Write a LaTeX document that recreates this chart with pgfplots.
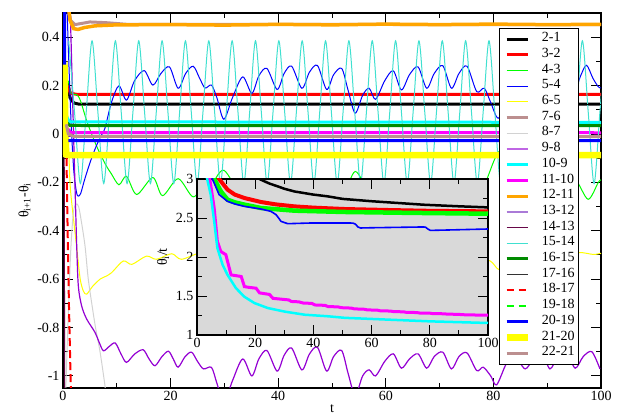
\documentclass[border=0pt]{standalone}
\usepackage{pgfplots}
\pgfplotsset{compat=1.18}
\usepackage{fontspec}
\setmainfont{Liberation Serif}
\definecolor{xgreen}{RGB}{0,255,0}
\definecolor{xblue}{RGB}{0,0,255}
\definecolor{xyellow}{RGB}{255,255,0}
\definecolor{xbrown}{RGB}{188,143,143}
\definecolor{xgrey}{RGB}{210,210,210}
\definecolor{xviolet}{RGB}{148,0,211}
\definecolor{xcyan}{RGB}{0,255,255}
\definecolor{xmagenta}{RGB}{255,0,255}
\definecolor{xorange}{RGB}{255,165,0}
\definecolor{xindigo}{RGB}{114,33,188}
\definecolor{xmaroon}{RGB}{103,7,72}
\definecolor{xturq}{RGB}{64,224,208}
\definecolor{xgreenfour}{RGB}{0,139,0}
\begin{document}
\begin{tikzpicture}
\path[use as bounding box] (-63pt,-29pt) rectangle (563pt,388pt);
\pgfplotsset{
  every axis/.append style={
    scale only axis,
    tick label style={font=\fontsize{14}{16}\selectfont},
    label style={font=\fontsize{14}{16}\selectfont},
    /pgf/number format/assume math mode=true,
    tick align=inside,
    major tick length=10pt,
    minor tick length=5pt,
    axis line style={line width=1.1pt},
    every tick/.style={black,line width=0.9pt},
  },
}
\begin{axis}[
  at={(0pt,0pt)}, anchor=south west,
  width=538pt, height=375pt,
  xmin=0, xmax=100, ymin=-1.05, ymax=0.5,
  xtick={0,20,40,60,80,100}, minor x tick num=1,
  ytick={-1,-0.8,-0.6,-0.4,-0.2,0,0.2,0.4},
  yticklabels={-1,-0.8,-0.6,-0.4,-0.2,0,0.2,0.4},
  minor y tick num=1,
  xlabel={t},
  xlabel style={yshift=3pt},
  ylabel={θ\textsubscript{i+1}-θ\textsubscript{i}},
  legend cell align=left,
  legend image code/.code={\draw[#1,line cap=butt] (0pt,0pt) -- (21pt,0pt);},
  legend style={at={(rel axis cs:0.959,0.96)}, anchor=north east,
    font=\fontsize{14}{15}\selectfont, draw=black, line width=0.7pt, fill=white,
    inner xsep=4pt, inner ysep=3pt,
    nodes={inner sep=0pt, text height=10.4pt, text depth=5.3pt},
    column sep=11pt},
]
\addplot[forget plot, black, line width=3pt] coordinates {(0.9,0.21) (1.3,0.15) (2.0,0.128) (3,0.123) (100,0.123)};
\addplot[forget plot, red, line width=3pt] coordinates {(0.85,0.2) (1.4,0.168) (2.5,0.164) (100,0.164)};
\addplot[forget plot, xgreen, line width=1pt, smooth] coordinates {
(1.0,0.22) (1.5,0.168) (2.5,0.163) (3.2,0.14) (4.4,0.055) (5.5,-0.01) (6.6,-0.068) (8.0,-0.13) (9.0,-0.165) (10.4,-0.21)
(11.8,-0.175) (13.7,-0.25) (16.7,-0.18) (18.5,-0.255) (21.4,-0.185) (24.2,-0.26) (26.5,-0.2) (27.6,-0.21) (29.9,-0.15)
(33.4,-0.26) (35.1,-0.19) (37.9,-0.265) (39.8,-0.185) (42.5,-0.265) (44.4,-0.185) (47.3,-0.265) (49.0,-0.185) (51.8,-0.26)
(54.3,-0.155) (56.9,-0.24) (58.1,-0.2) (61.4,-0.26) (62.9,-0.185) (66.0,-0.265) (67.6,-0.185) (70.6,-0.265) (72.2,-0.185)
(75.1,-0.265) (76.9,-0.2) (78.3,-0.21) (81.3,-0.07) (84.0,-0.24) (85.9,-0.19) (89.0,-0.265) (90.5,-0.185) (93.6,-0.265)
(95.2,-0.19) (97.6,-0.27) (99.5,-0.2) (100,-0.19)};
\addplot[forget plot, xblue, line width=1pt, smooth] coordinates {
(0.75,0.52) (1.0,0.35) (1.5,0.05) (2.0,-0.15) (2.5,-0.24) (2.85,-0.257) (3.3,-0.245) (4.0,-0.19) (5.0,-0.12) (6.0,-0.06)
(7.0,-0.01) (7.8,0.024) (9.0,0.13) (10.4,0.199) (11.8,0.14) (13.3,0.22) (15.1,0.262) (16.7,0.202) (18.2,0.25) (19.8,0.277)
(21.4,0.189) (22.8,0.25) (24.2,0.28) (25.4,0.23) (26.4,0.19) (27.6,0.202) (28.6,0.15) (29.9,0.061) (31.5,0.15) (33.4,0.236)
(35.1,0.168) (36.4,0.24) (37.9,0.271) (39.8,0.184) (41.1,0.25) (42.5,0.28) (44.4,0.189) (45.8,0.255) (47.3,0.283) (49.0,0.184)
(50.3,0.245) (51.8,0.271) (53.0,0.18) (54.3,0.086) (55.7,0.16) (56.9,0.189) (58.1,0.143) (59.8,0.22) (61.4,0.261) (62.9,0.182)
(64.4,0.245) (66.0,0.277) (67.6,0.189) (69.0,0.25) (70.6,0.282) (72.2,0.189) (73.6,0.25) (75.1,0.28) (76.9,0.175) (78.3,0.189)
(79.5,0.13) (80.9,0.065) (82.5,0.14) (84.2,0.205) (85.9,0.16) (87.4,0.23) (89.0,0.27) (90.5,0.185) (92.0,0.25) (93.6,0.278)
(95.2,0.19) (96.2,0.24) (97.3,0.284) (98.5,0.23) (99.5,0.195) (100,0.19)};
\addplot[forget plot, xyellow, line width=1pt, smooth] coordinates {
(0.75,0.3) (1.0,0.0) (1.3,-0.2) (1.7,-0.3) (2.2,-0.4) (2.6,-0.48) (3.2,-0.6) (3.8,-0.65) (4.4,-0.662) (5.5,-0.63)
(6.9,-0.6) (8.0,-0.588) (9.05,-0.573) (11.2,-0.525) (12.8,-0.539) (15.5,-0.505) (17.4,-0.518) (20.2,-0.495) (22.0,-0.518)
(25.5,-0.491) (27.5,-0.5) (30,-0.54) (33,-0.5) (36,-0.51) (40,-0.49) (45,-0.5) (50,-0.49) (54,-0.53) (58,-0.5) (65,-0.495)
(72,-0.5) (76,-0.505) (79.4,-0.525) (81,-0.56) (83,-0.54) (87,-0.5) (92,-0.5) (96,-0.49) (98.6,-0.498) (100,-0.493)};
\addplot[forget plot, xbrown, line width=3pt] coordinates {(0.95,0.53) (1.4,0.47) (2.2,0.452) (3.5,0.457) (5,0.463) (8,0.46) (12,0.453) (100,0.452)};
\addplot[forget plot, xgrey, line width=1pt, smooth] coordinates {
(0.45,-1.1) (0.9,-0.8) (1.4,-0.5) (1.9,-0.33) (2.4,-0.29) (2.9,-0.3) (3.4,-0.36) (4.1,-0.464) (4.7,-0.6) (5.6,-0.738)
(6.2,-0.82) (6.9,-0.902) (7.8,-1.04) (8.1,-1.1)};
\addplot[forget plot, xviolet, line width=1.2pt, smooth] coordinates {
(1.3,0.55) (1.6,0.3) (1.9,0.05) (2.2,-0.19) (2.55,-0.464) (2.85,-0.628) (3.47,-0.711) (4.4,-0.765) (5.95,-0.82) (6.7,-0.86)
(7.5,-0.896) (8.5,-0.88) (9.7,-0.864) (10.8,-0.91) (11.8,-0.944) (13.3,-0.91) (14.9,-0.892) (16.0,-0.93) (17.1,-0.958)
(18.4,-0.92) (19.6,-0.898) (20.5,-0.93) (21.4,-0.964) (22.7,-0.92) (23.9,-0.902) (25.0,-0.94) (26.1,-0.971) (27.6,-0.965)
(28.6,-1.03) (29.9,-1.11) (31.5,-1.02) (33.4,-0.93) (35.1,-1.0) (36.4,-0.93) (37.9,-0.895) (39.8,-0.98) (41.1,-0.915)
(42.5,-0.885) (44.4,-0.975) (45.8,-0.91) (47.3,-0.882) (49.0,-0.98) (50.3,-0.92) (51.8,-0.895) (53.0,-0.99) (54.3,-1.08)
(55.7,-1.0) (56.9,-0.975) (58.1,-1.0) (59.8,-0.94) (61.4,-0.909) (62.9,-0.968) (64.4,-0.93) (66.0,-0.909) (67.6,-0.968)
(69.0,-0.92) (70.6,-0.902) (72.2,-0.971) (73.6,-0.92) (75.1,-0.905) (76.9,-0.978) (78.1,-0.964) (79.5,-1.0) (80.6,-1.037)
(82.4,-0.95) (84.0,-0.92) (85.9,-0.971) (87.4,-0.93) (89.0,-0.902) (90.5,-0.971) (92.0,-0.92) (93.6,-0.902) (95.2,-0.968)
(96.7,-0.92) (98.3,-0.9) (99.8,-0.971)};
\addplot[forget plot, xcyan, line width=3pt] coordinates {(0.7,0.07) (1.2,0.05) (100,0.048)};
\addplot[forget plot, xmagenta, line width=3pt] coordinates {(0.9,0.02) (1.5,0.006) (100,0.005)};
\addplot[forget plot, xorange, line width=3.5pt] coordinates {(0.85,0.56) (1.3,0.47) (2.0,0.435) (2.8,0.432) (4,0.44) (6,0.447) (10,0.451)
(20,0.452) (30,0.45) (40,0.453) (50,0.451) (60,0.454) (70,0.452) (80,0.454) (90,0.452) (100,0.453)};
\addplot[forget plot, xindigo, line width=1.2pt] coordinates {(1,-0.011) (100,-0.011)};
\addplot[forget plot, xmaroon, line width=1pt] coordinates {(0.22,0.0) (0.32,-1.1)};
\addplot[forget plot, xturq, line width=1pt, smooth] coordinates {
(1.06,0.385) (2.145,0.09) (3.23,-0.205) (4.315,0.09)
(5.40,0.385) (6.485,0.09) (7.57,-0.205) (8.655,0.09)
(9.74,0.385) (10.825,0.09) (11.91,-0.205) (12.995,0.09)
(14.08,0.385) (15.165,0.09) (16.25,-0.205) (17.335,0.09)
(18.42,0.385) (19.505,0.09) (20.59,-0.205) (21.675,0.09)
(22.76,0.385) (23.845,0.09) (24.93,-0.205) (26.015,0.09)
(27.10,0.385) (28.185,0.09) (29.27,-0.205) (30.355,0.09)
(31.44,0.385) (32.525,0.09) (33.61,-0.205) (34.695,0.09)
(35.78,0.385) (36.865,0.09) (37.95,-0.205) (39.035,0.09)
(40.12,0.385) (41.205,0.09) (42.29,-0.205) (43.375,0.09)
(44.46,0.385) (45.545,0.09) (46.63,-0.205) (47.715,0.09)
(48.80,0.385) (49.885,0.09) (50.97,-0.205) (52.055,0.09)
(53.14,0.385) (54.225,0.09) (55.31,-0.205) (56.395,0.09)
(57.48,0.385) (58.565,0.09) (59.65,-0.205) (60.735,0.09)
(61.82,0.385) (62.905,0.09) (63.99,-0.205) (65.075,0.09)
(66.16,0.385) (67.245,0.09) (68.33,-0.205) (69.415,0.09)
(70.50,0.385) (71.585,0.09) (72.67,-0.205) (73.755,0.09)
(74.84,0.385) (75.925,0.09) (77.01,-0.205) (78.095,0.09)
(79.18,0.385) (80.265,0.09) (81.35,-0.205) (82.435,0.09)
(83.52,0.385) (84.605,0.09) (85.69,-0.205) (86.775,0.09)
(87.86,0.385) (88.945,0.09) (90.03,-0.205) (91.115,0.09)
(92.20,0.385) (93.285,0.09) (94.37,-0.205) (95.455,0.09)
(96.54,0.385) (97.625,0.09) (98.71,-0.205) (99.795,0.09)
(100.88,0.385)};
\addplot[forget plot, xgreenfour, line width=3pt] coordinates {(0.8,0.045) (1.3,0.035) (100,0.034)};
\addplot[forget plot, black, line width=0.8pt] coordinates {(3,0.123) (100,0.123)};
\addplot[forget plot, red, line width=2pt, dash pattern=on 8pt off 4pt] coordinates {(0.62,-0.05) (0.75,-0.25) (0.9,-0.45) (1.1,-0.7) (1.3,-0.9) (1.5,-1.1)};
\addplot[forget plot, xgreen, line width=2pt, dash pattern=on 8pt off 4pt] coordinates {(1,-0.087) (100,-0.087)};
\addplot[forget plot, xblue, line width=3pt] coordinates {(0.28,0.6) (0.31,0.25) (0.42,0.0) (0.6,-0.026) (1,-0.028) (100,-0.028)};
\addplot[forget plot, xyellow, line width=6.5pt] coordinates {(0.28,0.287) (0.31,0.1) (0.4,-0.05) (0.6,-0.085) (1,-0.087) (100,-0.087)};
\addplot[forget plot, xbrown, line width=3pt] coordinates {(0.6,0.04) (1.0,0.0) (2,-0.01) (100,-0.011)};
\addlegendimage{black, line width=3pt}\addlegendentry{2-1}
\addlegendimage{red, line width=3pt}\addlegendentry{3-2}
\addlegendimage{xgreen, line width=1pt}\addlegendentry{4-3}
\addlegendimage{xblue, line width=1pt}\addlegendentry{5-4}
\addlegendimage{xyellow, line width=1pt}\addlegendentry{6-5}
\addlegendimage{xbrown, line width=3pt}\addlegendentry{7-6}
\addlegendimage{xgrey, line width=1pt}\addlegendentry{8-7}
\addlegendimage{xviolet!60, line width=2pt}\addlegendentry{9-8}
\addlegendimage{xcyan, line width=3pt}\addlegendentry{10-9}
\addlegendimage{xmagenta, line width=3pt}\addlegendentry{11-10}
\addlegendimage{xorange, line width=3pt}\addlegendentry{12-11}
\addlegendimage{xindigo!60, line width=2pt}\addlegendentry{13-12}
\addlegendimage{xmaroon, line width=1pt}\addlegendentry{14-13}
\addlegendimage{xturq, line width=1pt}\addlegendentry{15-14}
\addlegendimage{xgreenfour, line width=3pt}\addlegendentry{16-15}
\addlegendimage{black!80, line width=1pt}\addlegendentry{17-16}
\addlegendimage{red, line width=2pt, dash pattern=on 7pt off 5pt}\addlegendentry{18-17}
\addlegendimage{xgreen, line width=2pt, dash pattern=on 7pt off 5pt}\addlegendentry{19-18}
\addlegendimage{xblue, line width=3pt}\addlegendentry{20-19}
\addlegendimage{xyellow, line width=6.5pt}\addlegendentry{21-20}
\addlegendimage{xbrown, line width=3pt}\addlegendentry{22-21}
\end{axis}
\begin{axis}[
  at={(134pt,53pt)}, anchor=south west,
  width=291pt, height=156pt,
  xmin=0, xmax=100, ymin=1, ymax=3,
  xtick={0,20,40,60,80,100}, minor x tick num=1,
  ytick={1,1.5,2,2.5,3}, minor y tick num=1,
  ylabel={θ\textsubscript{i}/t},
  axis background/.style={fill=black!15},
]
\addplot[black, line width=2.5pt] coordinates {(20,3.03) (22,2.99) (25,2.94) (27.8,2.905) (30,2.875) (33.5,2.84) (40,2.80) (45,2.777)
(50,2.745) (55,2.73) (60,2.715) (70,2.69) (78,2.67) (90,2.65) (100,2.636)};
\addplot[red, line width=4pt] coordinates {(7.0,3.05) (7.6,3.0) (10.5,2.863) (13,2.8) (16.3,2.756) (22,2.705) (27,2.675) (33.5,2.649)
(40,2.633) (50.8,2.615) (66.3,2.602) (80,2.592) (100,2.585)};
\addplot[xgreen, line width=4.5pt] coordinates {(5.3,3.05) (5.9,3.0) (8.2,2.841) (10.5,2.735) (13,2.7) (16.3,2.671) (22,2.628) (33.5,2.594)
(50.8,2.577) (75,2.565) (100,2.555)};
\addplot[xblue, line width=1.6pt] coordinates {(4.8,3.05) (5.3,3.0) (7.6,2.8) (10.5,2.713) (13,2.68) (16.3,2.649) (22,2.615) (25.4,2.585)
(27.2,2.542) (28.9,2.456) (31.2,2.427) (39.2,2.436) (50.8,2.436) (53.6,2.435) (54.5,2.42) (55.3,2.385) (56.2,2.372) (60,2.375)
(77.7,2.385) (78.5,2.383) (79.3,2.36) (80.2,2.341) (85,2.345) (100,2.359)};
\addplot[xmagenta, line width=3pt] coordinates {(4.0,3.05) (4.4,3.0) (5.9,2.63) (7.0,2.2) (8.2,2.07) (9.9,2.03) (10.6,1.93) (11.7,1.77)
(13.5,1.76) (15.2,1.75) (16.3,1.62) (18,1.61) (20.3,1.60) (21.5,1.54) (24.9,1.52) (26.1,1.47) (30.1,1.455) (31.5,1.45) (32.4,1.43)
(35,1.425) (36.5,1.41) (39.5,1.405) (40.5,1.385) (44,1.38) (45,1.365) (48.5,1.36) (49.6,1.35) (53,1.345) (54,1.335) (57.5,1.33)
(58.5,1.322) (62,1.318) (63,1.31) (66.5,1.307) (67.5,1.3) (71,1.297) (72,1.29) (75.5,1.288) (76.5,1.282) (80,1.28) (81,1.274)
(85,1.272) (86,1.267) (90,1.265) (91,1.26) (95,1.258) (96,1.255) (100,1.255)};
\addplot[xcyan, line width=2.5pt] coordinates {(3.2,3.05) (3.5,3.0) (4.7,2.8) (5.9,2.46) (7.0,2.115) (8.8,1.9) (10.5,1.77) (13.4,1.6)
(16.3,1.49) (19.7,1.41) (24.3,1.346) (30.1,1.30) (37,1.26) (45,1.24) (50.8,1.22) (66.3,1.196) (80,1.175) (100,1.154)};
\end{axis}
\end{tikzpicture}
\end{document}
